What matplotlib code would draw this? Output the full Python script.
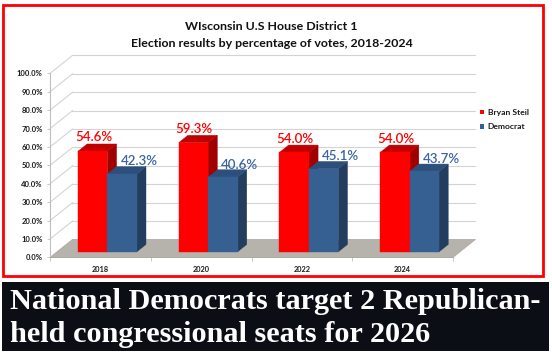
import matplotlib.pyplot as plt
from matplotlib.patches import Polygon, Rectangle
from matplotlib.ticker import FuncFormatter

years = ['2018', '2020', '2022', '2024']
steil = [54.6, 59.3, 54.0, 54.0]
democrat = [42.3, 40.6, 45.1, 43.7]
series_names = ['Bryan Steil', 'Democrat']

title = 'WIsconsin U.S House District 1\nElection results by percentage of votes, 2018-2024'
headline = ['National Democrats target 2 Republican-', 'held congressional seats for 2026']

W, H = 552, 358
fig = plt.figure(figsize=(W / 100, H / 100), dpi=100)
fig.patch.set_facecolor('white')

# front plane of the pseudo-3d chart
ax = fig.add_axes([50 / W, (H - 257.4) / H, 403 / W, 184 / H])
ax.set_xlim(-0.5, len(years) - 0.5)
ax.set_ylim(0, 100)
ax.patch.set_visible(False)

DX, DY = 0.2233, 9.78      # depth offset (category units, percent)
bw = 0.292                 # bar width
d0, dd = 0.31, 0.41        # bar depth start / depth span

def proj(x, y, d):
    return (x + d * DX, y + d * DY)

grid_c = '#d4d4d4'
# back wall and side wall gridlines
for v in range(10, 101, 10):
    p0, p1 = proj(-0.5, v, 1), proj(len(years) - 0.5, v, 1)
    ax.plot([p0[0], p1[0]], [p0[1], p1[1]], color=grid_c, lw=0.8, clip_on=False, zorder=1)
    q0 = proj(-0.5, v, 0)
    ax.plot([q0[0], p0[0]], [q0[1], p0[1]], color=grid_c, lw=0.8, clip_on=False, zorder=1)

# floor
x0, x1 = -0.5, len(years) - 0.5
floor = [proj(x0, 0, 0), proj(x1, 0, 0), proj(x1, 0, 1), proj(x0, 0, 1)]
ax.add_patch(Polygon(floor, closed=True, facecolor='#b5b3ab', edgecolor='#a9a79f',
                     lw=0.5, clip_on=False, zorder=2))

def bar3d(xl, h, front, top, side):
    xr = xl + bw
    side_pts = [proj(xr, 0, d0), proj(xr, 0, d0 + dd), proj(xr, h, d0 + dd), proj(xr, h, d0)]
    top_pts = [proj(xl, h, d0), proj(xr, h, d0), proj(xr, h, d0 + dd), proj(xl, h, d0 + dd)]
    front_pts = [proj(xl, 0, d0), proj(xr, 0, d0), proj(xr, h, d0), proj(xl, h, d0)]
    for pts, c in [(side_pts, side), (top_pts, top), (front_pts, front)]:
        ax.add_patch(Polygon(pts, closed=True, facecolor=c, edgecolor=c, lw=0.3,
                             clip_on=False, zorder=3))

red = ('#ff0000', '#c00000', '#a00000')
blue = ('#376092', '#2d4f7c', '#233d5e')
for i in range(len(years)):
    bar3d(i - bw, steil[i], *red)
    bar3d(i, democrat[i], *blue)
    rx, ry = proj(i - bw / 2, steil[i], d0)
    ax.annotate(f'{steil[i]:.1f}%', (rx, ry), xytext=(0.7, 10), textcoords='offset points',
                ha='center', va='center', color='#ff0000', fontsize=9.6, fontweight='semibold',
                fontfamily='Lato', annotation_clip=False, zorder=5)
    bx, by = proj(i + bw / 2, democrat[i], d0)
    ax.annotate(f'{democrat[i]:.1f}%', (bx, by), xytext=(12.2, 9), textcoords='offset points',
                ha='center', va='center', color='#3b64a0', fontsize=9.6, fontweight='semibold',
                fontfamily='Lato', annotation_clip=False, zorder=5)

# axes styling
for s in ['top', 'right']:
    ax.spines[s].set_visible(False)
ax.spines['left'].set_color('#bfbfbf')
ax.spines['bottom'].set_color('#a9a79f')
ax.spines['left'].set_linewidth(0.8)
ax.spines['bottom'].set_linewidth(0.6)
ax.set_yticks(range(0, 101, 10))
ax.yaxis.set_major_formatter(FuncFormatter(lambda v, p: f'{v:.1f}%'))
ax.tick_params(axis='y', length=2.2, width=0.6, color='#bfbfbf', pad=3,
               labelsize=5.5, labelcolor='#1a1a1a')
ax.set_xticks(range(len(years)))
ax.set_xticklabels(years)
ax.set_xticks([i - 0.5 for i in range(len(years) + 1)], minor=True)
ax.tick_params(axis='x', which='major', length=0, pad=6, labelsize=5.3, labelcolor='#1a1a1a')
ax.tick_params(axis='x', which='minor', length=3, width=0.6, color='#bfbfbf')
for lab in ax.get_xticklabels() + ax.get_yticklabels():
    lab.set_fontfamily('Lato')
    lab.set_fontweight('bold')

# legend
for k, (name, c) in enumerate(zip(series_names, [red[0], blue[0]])):
    yy = 112 + k * 14.5
    fig.patches.append(Rectangle((480 / W, (H - yy - 2.2) / H), 4.4 / W, 4.4 / H,
                                 transform=fig.transFigure, facecolor=c, edgecolor='none'))
    fig.text(487.7 / W, (H - yy) / H, name, ha='left', va='center', fontsize=6.1,
             fontweight='bold', fontfamily='Lato', color='#1a1a1a')

# title
lines = title.split('\n')
fig.text(271 / W, (H - 26) / H, lines[0], ha='center', va='center', fontsize=8.9,
         fontweight='bold', fontfamily='Lato', color='#111111')
fig.text(272 / W, (H - 43.5) / H, lines[1], ha='center', va='center', fontsize=8.9,
         fontweight='bold', fontfamily='Lato', color='#111111')

# red frame
fig.patches.append(Rectangle((3.3 / W, (H - 276.4) / H), 539.9 / W, 271.1 / H,
                             transform=fig.transFigure, facecolor='none',
                             edgecolor='#ff0000', lw=2.0))
# headline banner
fig.patches.append(Rectangle((2 / W, (H - 351) / H), 547 / W, 69 / H,
                             transform=fig.transFigure, facecolor='#0b0f15', edgecolor='none'))
fig.text(10 / W, (H - 309.3) / H, headline[0], ha='left', va='baseline', fontsize=21.8,
         fontweight='bold', fontfamily='Liberation Serif', color='white')
fig.text(10 / W, (H - 341.7) / H, headline[1], ha='left', va='baseline', fontsize=21.8,
         fontweight='bold', fontfamily='Liberation Serif', color='white')

fig.savefig('out.png', dpi=100)
